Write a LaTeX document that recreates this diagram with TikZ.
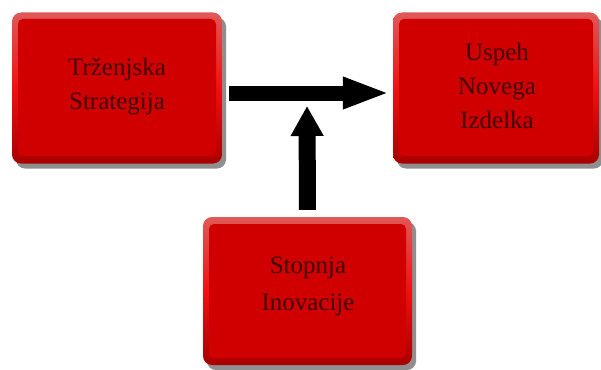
\documentclass[tikz,border=0pt]{standalone}
\usepackage{fontspec}
\setmainfont{Liberation Serif}
\usetikzlibrary{arrows.meta,shadows}
\definecolor{boxred}{HTML}{D00000}
\definecolor{boxedge}{HTML}{F01010}
\definecolor{boxtop}{HTML}{E05858}
\definecolor{boxbot}{HTML}{A80000}
\definecolor{txt}{HTML}{400404}
\tikzset{
  redbox/.style={rounded corners=9pt, draw=none,
    top color=boxtop, bottom color=boxbot, middle color=boxedge,
    drop shadow={shadow xshift=4pt, shadow yshift=-5pt, opacity=0.55, fill=black!80},
    inner sep=0pt},
  inner/.style={rounded corners=5pt, fill=boxred, draw=none},
  label/.style={align=center, text=txt, font=\fontsize{25}{34}\selectfont},
  fatarrow/.style={line width=15pt, draw=black, -{Triangle[length=47pt,width=29pt]}},
  vfatarrow/.style={line width=17pt, draw=black, -{Triangle[length=30pt,width=31pt]}}
}
\begin{document}
\begin{tikzpicture}[x=1pt,y=-1pt]
\useasboundingbox (0,0) rectangle (601,369);
\fill[white] (0,0) rectangle (601,369);
% boxes
\node[redbox, minimum width=210pt, minimum height=151pt] (b1) at (117,88) {};
\fill[inner] (18,19) rectangle (216,156);
\node[label] (t1) at (117,86) {Trženjska\\Strategija};
\node[redbox, minimum width=206pt, minimum height=151pt] (b2) at (496,88) {};
\fill[inner] (399,19) rectangle (593,156);
\node[label] (t2) at (497,86) {Uspeh\\Novega\\Izdelka};
\node[redbox, minimum width=209pt, minimum height=148pt] (b3) at (307.5,291) {};
\fill[inner] (209,224) rectangle (406,358);
\node[label, font=\fontsize{25}{37}\selectfont] (t3) at (308,286) {Stopnja\\Inovacije};
% arrows
\coordinate (j) at (307,106);
\draw[fatarrow, shorten <=7pt, shorten >=3pt] ([yshift=-5pt]b1.east) -- ([yshift=-5pt]b2.west);
\draw[vfatarrow, shorten <=7pt] (b3.north) -- (j);
\end{tikzpicture}
\end{document}
